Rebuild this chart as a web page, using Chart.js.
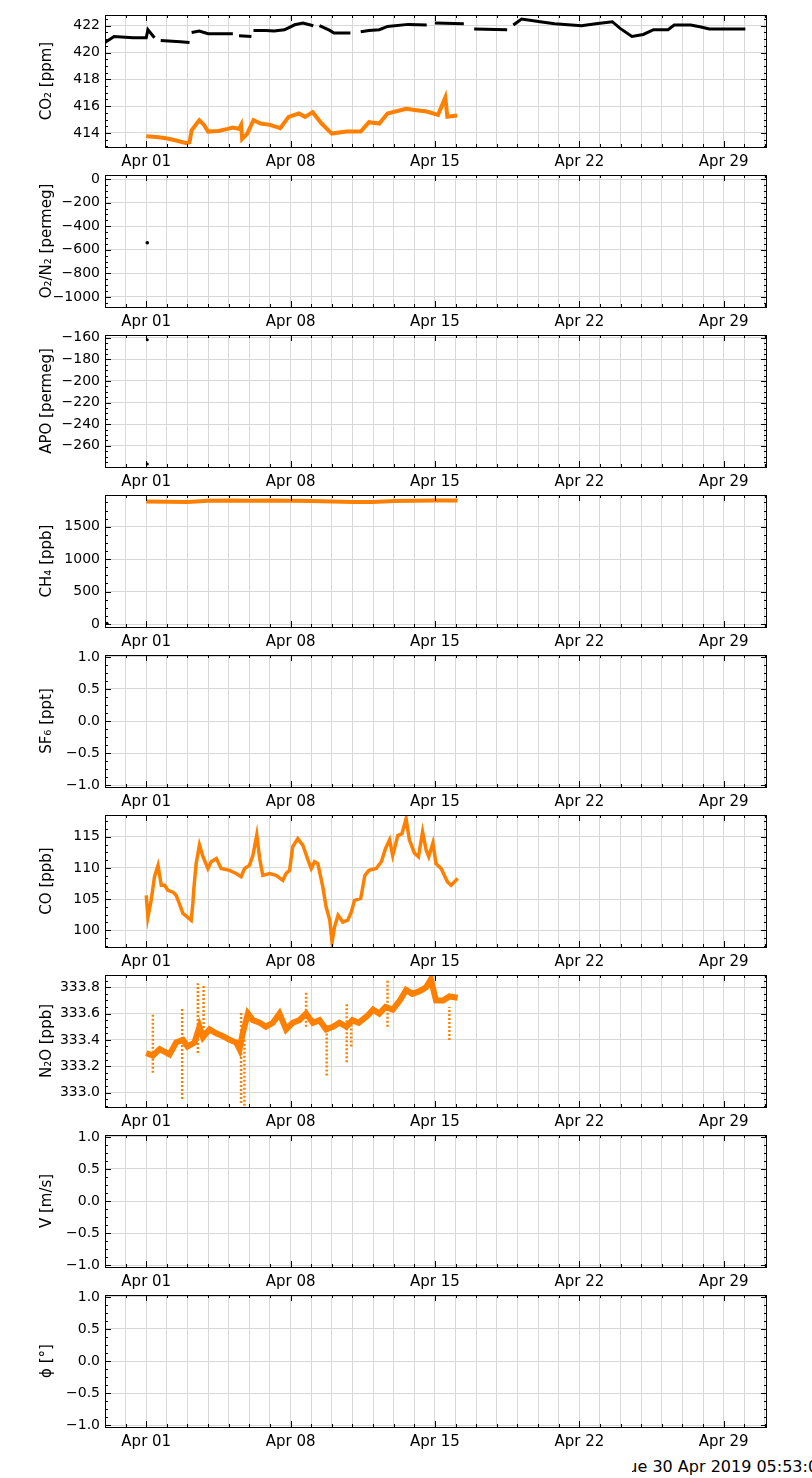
<!DOCTYPE html>
<html>
<head>
<meta charset="utf-8">
<script src="https://cdn.jsdelivr.net/npm/chart.js@4.4.0/dist/chart.umd.min.js"></script>
<style>
  body { margin: 0; background: #fff; width: 812px; height: 1478px; position: relative; overflow: hidden; }
  canvas { position: absolute; left: 0; }
  #stamp { position: absolute; left: 632px; top: 1457px; width: 180px; overflow: hidden; white-space: nowrap;
           font: 16px "DejaVu Sans", sans-serif; color: #000; }
  #stamp span { position: relative; left: -12px; }
</style>
</head>
<body>
<div id="stamp"><span>Tue 30 Apr 2019 05:53:00</span></div>
<script>
// Días desde el 1 de abril (x) y valores
const weekTicks = [0, 7, 14, 21, 28];
const weekLabels = ['Apr 01', 'Apr 08', 'Apr 15', 'Apr 22', 'Apr 29'];

// CO2 negro (null = hueco)
const co2BlackDays = [-2.0, -1.56, -0.64, 0, 0.08, 0.4, 0.5, 0.7, 1.65, 2.1, 2.15, 2.2, 2.57, 3.0, 4.2, 4.35, 4.5, 5.1, 5.15, 5.2, 5.8, 6.2, 6.7, 7.2, 7.6, 8.1, 8.25, 8.4, 8.9, 9.1, 9.9, 10.1, 10.4, 10.8, 11.3, 11.7, 12.7, 13.6, 13.8, 14.0, 15.4, 15.65, 15.9, 17.5, 17.65, 17.8, 18.2, 19.1, 19.8, 21.1, 21.8, 22.6, 22.98, 23.55, 24.1, 24.6, 25.3, 25.6, 26.4, 26.9, 27.3, 29.05];
const co2BlackVals = [420.75, 421.2, 421.1, 421.1, 421.7, 421.1, null, 420.9, 420.8, 420.75, null, 421.5, 421.6, 421.4, 421.4, null, 421.25, 421.2, null, 421.65, 421.65, 421.6, 421.7, 422.07, 422.2, 422.0, null, 422.0, 421.65, 421.45, 421.45, null, 421.55, 421.65, 421.7, 421.95, 422.1, 422.05, null, 422.2, 422.15, null, 421.75, 421.7, null, 422.05, 422.5, 422.3, 422.15, 422.0, 422.15, 422.3, 421.8, 421.2, 421.35, 421.7, 421.7, 422.05, 422.05, 421.9, 421.75, 421.75];

// CO2 naranja
const co2Days = [0, 0.5, 0.96, 1.4, 1.9, 2.1, 2.2, 2.57, 2.8, 3.0, 3.5, 3.95, 4.2, 4.5, 4.6, 4.65, 4.9, 5.2, 5.55, 6.0, 6.5, 6.9, 7.4, 7.7, 8.07, 8.5, 9.0, 9.7, 10.4, 10.8, 11.3, 11.7, 12.6, 13.1, 13.6, 14.15, 14.5, 14.6, 15.07];
const co2Vals = [413.75, 413.7, 413.6, 413.45, 413.25, 413.3, 414.2, 414.95, 414.6, 414.1, 414.15, 414.3, 414.4, 414.3, 414.6, 413.55, 413.95, 414.95, 414.7, 414.6, 414.35, 415.2, 415.45, 415.2, 415.55, 414.7, 413.95, 414.1, 414.1, 414.8, 414.7, 415.45, 415.8, 415.7, 415.6, 415.35, 416.65, 415.2, 415.3];

// O2/N2, APO, CH4
const o2Days = [0.05];
const o2Vals = [-540];
const apoDays = [0.05, 0.05];
const apoVals = [-162, -277];
const ch4Days = [0, 1, 2, 3, 4, 5, 6, 7, 8, 9, 10, 11, 12, 13, 14, 15, 15.1];
const ch4Vals = [1890, 1885, 1880, 1900, 1905, 1900, 1905, 1900, 1895, 1890, 1880, 1880, 1895, 1900, 1905, 1905, 1900];
const ch4BlackDays = [-1.9];
const ch4BlackVals = [10];

// CO
const coDays = [0, 0.08, 0.24, 0.4, 0.57, 0.73, 0.89, 1.05, 1.3, 1.45, 1.6, 1.78, 2.0, 2.18, 2.26, 2.3, 2.42, 2.58, 2.75, 2.99, 3.15, 3.4, 3.63, 4.04, 4.36, 4.6, 4.77, 5.0, 5.17, 5.36, 5.5, 5.65, 5.98, 6.3, 6.62, 6.78, 6.95, 7.1, 7.35, 7.6, 7.84, 8.0, 8.16, 8.32, 8.56, 8.72, 8.9, 9.01, 9.13, 9.3, 9.53, 9.77, 9.94, 10.1, 10.4, 10.6, 10.8, 11.15, 11.4, 11.6, 11.8, 11.95, 12.2, 12.4, 12.6, 12.76, 13.0, 13.2, 13.4, 13.57, 13.7, 13.9, 14.05, 14.3, 14.46, 14.6, 14.78, 15.1];
const coVals = [105.6, 102.1, 104.8, 108.6, 110.4, 107.2, 107.2, 106.4, 106.1, 105.6, 104.3, 102.7, 102.1, 101.6, 104.3, 106.4, 110.7, 113.7, 111.8, 109.9, 111.0, 111.5, 109.9, 109.6, 109.1, 108.6, 109.9, 110.4, 112.0, 115.3, 111.5, 108.8, 109.1, 108.8, 108.0, 109.1, 109.6, 113.4, 114.7, 113.6, 111.3, 109.9, 111.0, 110.7, 107.0, 103.75, 101.6, 98.1, 100.5, 102.4, 101.3, 101.6, 102.9, 104.8, 105.1, 108.8, 109.6, 109.9, 111.0, 113.1, 114.5, 112.0, 115.2, 115.5, 117.9, 114.5, 112.4, 111.8, 115.8, 112.9, 111.8, 114.0, 110.7, 109.9, 108.8, 107.8, 107.2, 108.3];

// N2O (línea principal y picos)
const n2oDays = [0, 0.32, 0.65, 1.13, 1.45, 1.78, 2.0, 2.34, 2.58, 2.75, 3.07, 3.39, 3.7, 4.04, 4.36, 4.52, 4.68, 4.93, 5.17, 5.5, 5.8, 6.14, 6.46, 6.78, 7.1, 7.43, 7.75, 8.08, 8.4, 8.72, 9.05, 9.37, 9.7, 10.0, 10.3, 10.7, 11.0, 11.3, 11.6, 11.95, 12.3, 12.6, 12.9, 13.25, 13.57, 13.8, 14.05, 14.4, 14.7, 15.1];
const n2oVals = [333.30, 333.28, 333.33, 333.29, 333.38, 333.40, 333.35, 333.38, 333.50, 333.42, 333.48, 333.45, 333.43, 333.40, 333.38, 333.33, 333.45, 333.60, 333.55, 333.53, 333.50, 333.53, 333.60, 333.48, 333.53, 333.55, 333.60, 333.53, 333.55, 333.48, 333.50, 333.53, 333.50, 333.55, 333.53, 333.58, 333.63, 333.60, 333.65, 333.63, 333.70, 333.78, 333.75, 333.77, 333.80, 333.86, 333.70, 333.70, 333.73, 333.72];
const n2oSpikeDays = [0.32, 0.32, null, 1.74, 1.74, null, 2.5, 2.5, null, 2.78, 2.78, null, 4.6, 4.6, null, 4.76, 4.76, null, 7.75, 7.75, null, 8.75, 8.75, null, 9.72, 9.72, null, 9.94, 9.94, null, 11.7, 11.7, null, 14.7, 14.7];
const n2oSpikeVals = [333.15, 333.6, null, 332.95, 333.65, null, 333.3, 333.83, null, 333.4, 333.82, null, 332.92, 333.62, null, 332.9, 333.4, null, 333.5, 333.77, null, 333.13, 333.45, null, 333.23, 333.68, null, 333.35, 333.55, null, 333.5, 333.85, null, 333.4, 333.65];

// Marcas del eje y de cada panel
const co2Ticks = [414, 416, 418, 420, 422];
const o2Ticks = [-1000, -800, -600, -400, -200, 0];
const apoTicks = [-260, -240, -220, -200, -180, -160];
const ch4Ticks = [0, 500, 1000, 1500];
const unitTicks = [-1, -0.5, 0, 0.5, 1];
const coTicks = [100, 105, 110, 115];
const n2oTicks = [333.0, 333.2, 333.4, 333.6, 333.8];

const ORANGE = '#ff8000';
const FONT = '"DejaVu Sans", sans-serif';

function pts(xs, ys) {
    return xs.map((x, i) => ({ x: x, y: (x === null ? null : ys[i]) }));
}

function fmt(v, dec) {
    return v.toFixed(dec).replace('-', '\u2212');
}

// Marcas hacia dentro en los cuatro bordes
const innerTicks = {
    id: 'innerTicks',
    afterDraw(chart) {
        const { ctx, chartArea: a, scales } = chart;
        const xs = scales.x, ys = scales.y;
        ctx.save();
        ctx.strokeStyle = '#000';
        ctx.lineWidth = 1;
        ctx.beginPath();
        for (let d = Math.ceil(xs.min); d <= xs.max; d++) {
            const px = Math.round(xs.getPixelForValue(d)) + 0.5;
            const len = d % 7 === 0 ? 6 : 3;
            ctx.moveTo(px, a.bottom); ctx.lineTo(px, a.bottom - len);
            ctx.moveTo(px, a.top); ctx.lineTo(px, a.top + len);
        }
        const t = chart.options.yTickList;
        const step = (t[1] - t[0]) / 4;
        for (let v = t[0] - 8 * step; v <= ys.max; v += step) {
            if (v < ys.min) continue;
            const py = Math.round(ys.getPixelForValue(v)) + 0.5;
            const major = t.some(m => Math.abs(m - v) < step / 10);
            const len = major ? 6 : 3;
            ctx.moveTo(a.left, py); ctx.lineTo(a.left + len, py);
            ctx.moveTo(a.right, py); ctx.lineTo(a.right - len, py);
        }
        ctx.stroke();
        ctx.strokeRect(a.left + 0.5, a.top + 0.5, a.right - a.left - 1, a.bottom - a.top);
        ctx.restore();
    }
};

function makePanel(index, title, yMin, yMax, yTicks, dec, datasets) {
    const canvas = document.createElement('canvas');
    canvas.style.top = (index * 160) + 'px';
    canvas.style.width = '812px';
    canvas.style.height = '175px';
    canvas.width = 812; canvas.height = 175;
    document.body.appendChild(canvas);

    new Chart(canvas, {
        type: 'line',
        data: { datasets: datasets },
        options: {
            responsive: false,
            animation: false,
            devicePixelRatio: 1,
            yTickList: yTicks,
            layout: { padding: { top: 15, right: 45, left: 38, bottom: 0 } },
            plugins: { legend: { display: false }, tooltip: { enabled: false } },
            elements: { point: { radius: 0 } },
            scales: {
                x: {
                    type: 'linear', min: -2, max: 30.1,
                    afterBuildTicks: s => { s.ticks = []; for (let d = -2; d <= 30; d++) s.ticks.push({ value: d }); },
                    afterFit: s => { s.height = 28; },
                    grid: { color: '#d8d8d8', drawTicks: false },
                    border: { display: false },
                    ticks: {
                        autoSkip: false, maxRotation: 0, padding: 6, color: '#000',
                        font: { family: FONT, size: 15 },
                        callback: v => { const k = weekTicks.indexOf(v); return k >= 0 ? weekLabels[k] : ''; }
                    }
                },
                y: {
                    min: yMin, max: yMax,
                    afterBuildTicks: s => { s.ticks = yTicks.map(v => ({ value: v })); },
                    afterFit: s => { s.width = 67; },
                    grid: { color: '#d8d8d8', drawTicks: false },
                    border: { display: false },
                    title: { display: true, text: title, color: '#000', font: { family: FONT, size: 15 }, padding: { top: 0, bottom: 0 } },
                    ticks: { padding: 5, color: '#000', font: { family: FONT, size: 14 }, callback: v => fmt(v, dec) }
                }
            }
        },
        plugins: [innerTicks]
    });
}

function lineSet(xs, ys, color, width) {
    return { data: pts(xs, ys), borderColor: color, backgroundColor: color, borderWidth: width, spanGaps: false, tension: 0, parsing: false };
}

function dotSet(xs, ys, color, r) {
    return { data: pts(xs, ys), showLine: false, pointRadius: r, pointBackgroundColor: color, pointBorderWidth: 0, parsing: false };
}

makePanel(0, 'CO\u2082 [ppm]', 412.95, 422.8, co2Ticks, 0, [
    lineSet(co2BlackDays, co2BlackVals, '#000', 3),
    lineSet(co2Days, co2Vals, ORANGE, 4)
]);
makePanel(1, 'O\u2082/N\u2082 [permeg]', -1085, 34, o2Ticks, 0, [
    dotSet(o2Days, o2Vals, '#000', 1.8)
]);
makePanel(2, 'APO [permeg]', -279.7, -157.5, apoTicks, 0, [
    dotSet(apoDays, apoVals, '#000', 1.5)
]);
makePanel(3, 'CH\u2084 [ppb]', -46, 1989, ch4Ticks, 0, [
    lineSet(ch4Days, ch4Vals, ORANGE, 4),
    dotSet(ch4BlackDays, ch4BlackVals, '#000', 1.5)
]);
makePanel(4, 'SF\u2086 [ppt]', -1.03, 1.03, unitTicks, 1, []);
makePanel(5, 'CO [ppb]', 97.3, 118.5, coTicks, 0, [
    lineSet(coDays, coVals, ORANGE, 3.5)
]);
makePanel(6, 'N\u2082O [ppb]', 332.89, 333.893, n2oTicks, 1, [
    { ...lineSet(n2oSpikeDays, n2oSpikeVals, ORANGE, 2.5), borderDash: [2, 2] },
    lineSet(n2oDays, n2oVals, ORANGE, 6)
]);
makePanel(7, 'V [m/s]', -1.03, 1.03, unitTicks, 1, []);
makePanel(8, '\u03d5 [\u00b0]', -1.03, 1.03, unitTicks, 1, []);
</script>
</body>
</html>
